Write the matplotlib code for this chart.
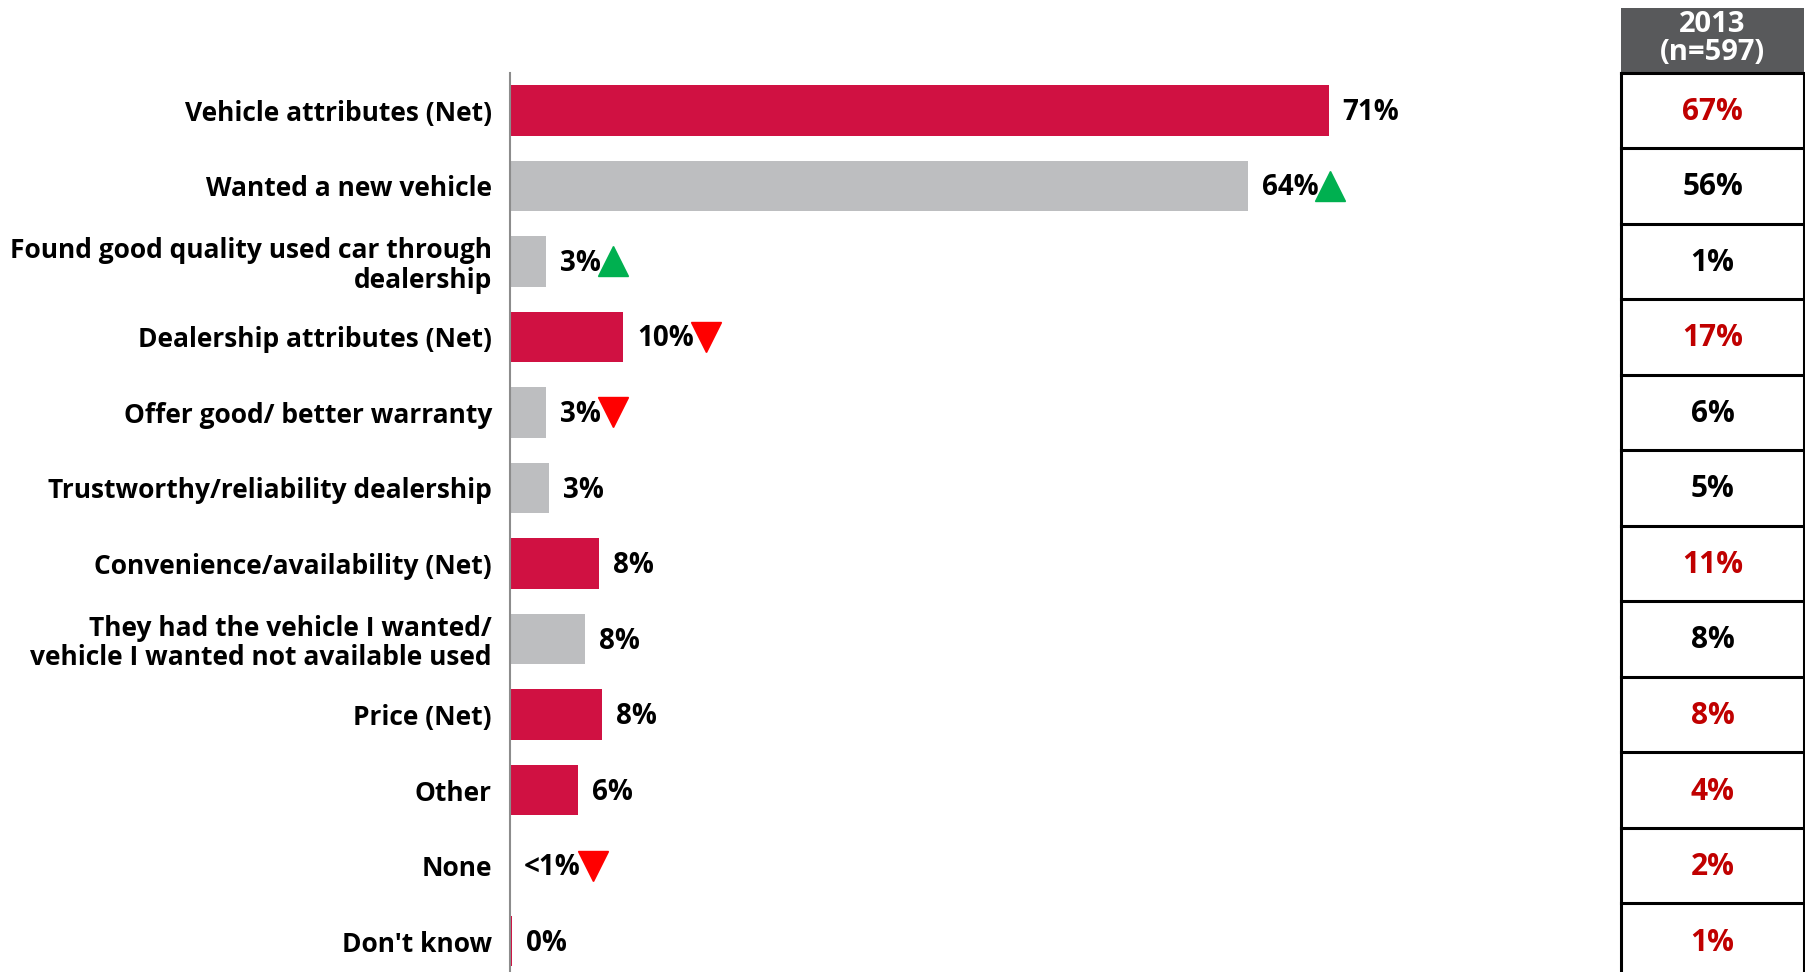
import matplotlib
matplotlib.use("Agg")
import matplotlib.pyplot as plt
from matplotlib.patches import Rectangle

plt.rcParams['font.family'] = ['Open Sans', 'DejaVu Sans']

# =============================================================================
# data
categories = ["Vehicle attributes (Net)", "Wanted a new vehicle",
              "Found good quality used car through\ndealership",
              "Dealership attributes (Net)", "Offer good/ better warranty",
              "Trustworthy/reliability dealership", "Convenience/availability (Net)",
              "They had the vehicle I wanted/\nvehicle I wanted not available used",
              "Price (Net)", "Other", "None", "Don't know"]
values = [71, 64, 3.1, 9.8, 3.1, 3.4, 7.7, 6.5, 8.0, 5.9, 0, 0.15]
value_labels = ["71%", "64%", "3%", "10%", "3%", "3%", "8%", "8%", "8%", "6%", "<1%", "0%"]
is_net = [True, False, False, True, False, False, True, False, True, True, True, True]
change = [None, "up", "up", "down", "down", None, None, None, None, None, "down", None]
prev_header = "2013\n(n=597)"
prev_values = ["67%", "56%", "1%", "17%", "6%", "5%", "11%", "8%", "8%", "4%", "2%", "1%"]

RED = "#D01142"
GRAY = "#BDBEC0"
FS_CAT = 19
FS_VAL = 20
FS_TAB = 21.5

# =============================================================================
W, H = 1806, 972
fig = plt.figure(figsize=(W / 100, H / 100), dpi=100)

ax_left = 510 / W
ax_top = 1 - 72.6 / H
ax = fig.add_axes([ax_left, 0, 91 * 11.53 / W, ax_top])
n = len(categories)
ylim = (11.41, -0.5)

ypos = list(range(n))
colors = [RED if c else GRAY for c in is_net]
ax.barh(ypos, values, height=0.67, color=colors)
ax.set_xlim(0, 91)
ax.set_ylim(*ylim)
ax.set_yticks(ypos)
ax.set_yticklabels(categories, fontsize=FS_CAT, fontweight='bold', ha='right',
                   multialignment='right', linespacing=1.12)
ax.tick_params(axis='y', length=0, pad=13)
ax.set_xticks([])
for s in ['top', 'right', 'bottom']:
    ax.spines[s].set_visible(False)
ax.spines['left'].set_color('#8C8C8C')
ax.spines['left'].set_linewidth(1.5)

texts = []
for y, v, lab in zip(ypos, values, value_labels):
    t = ax.annotate(lab, (v, y), xytext=(10, -1.5), textcoords='offset points',
                    ha='left', va='center', fontsize=FS_VAL, fontweight='bold')
    texts.append(t)

# trend arrows right after the value labels
fig.canvas.draw()
inv = ax.transData.inverted()
for t, y, ch in zip(texts, ypos, change):
    if ch is None:
        continue
    bb = t.get_window_extent()
    x_data = inv.transform((bb.x1 + 12, 0))[0]
    if ch == "up":
        ax.plot(x_data, y + 0.0, marker='^', color='#00B050', markersize=21,
                clip_on=False)
    else:
        ax.plot(x_data, y + 0.0, marker='v', color='#FF0000', markersize=21,
                clip_on=False)

# =============================================================================
# comparison table
tx = fig.add_axes([1621 / W, 0, 183 / W, ax_top])
tx.set_xlim(0, 1)
tx.set_ylim(*ylim)
tx.axis('off')
tx.add_patch(Rectangle((0, -1.36), 1, 0.86, facecolor='#58595B',
                       edgecolor='none', clip_on=False))
tx.text(0.5, -0.95, prev_header, ha='center', va='center', color='white',
        fontsize=FS_TAB - 0.5, fontweight='bold', linespacing=0.95)
for k in range(n + 1):
    tx.plot([0, 1], [k - 0.5, k - 0.5], color='black', lw=2.2, clip_on=False,
            solid_capstyle='projecting')
tx.plot([0, 0], [-0.5, 11.5], color='black', lw=2.2, clip_on=False)
tx.plot([1, 1], [-0.5, 11.5], color='black', lw=2.2, clip_on=False)
for y, pv, red in zip(ypos, prev_values, is_net):
    tx.text(0.5, y + 0.02, pv, ha='center', va='center', fontsize=FS_TAB,
            fontweight='bold', color='#C00000' if red else 'black')

fig.savefig("out.png", dpi=100)
